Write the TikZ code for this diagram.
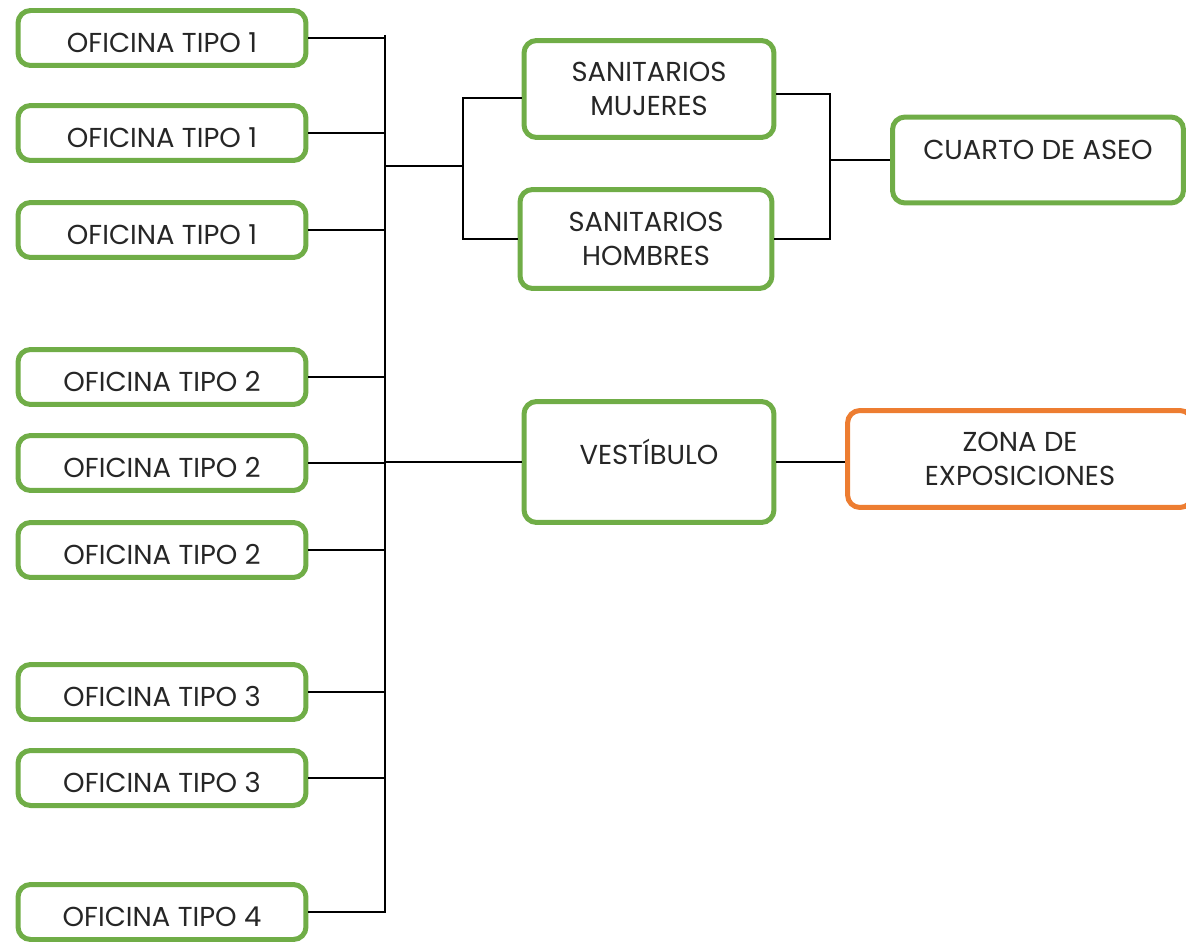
\documentclass[tikz,border=0pt]{standalone}
\usepackage{fontspec}
\setmainfont{Poppins}
\usepackage{tikz}
\usetikzlibrary{positioning,calc}
\definecolor{boxgreen}{HTML}{70AD47}
\definecolor{boxorange}{HTML}{ED7D31}
\tikzstyle{areanode}=[rectangle, draw=boxgreen, line width=0.1cm, rounded corners=0.25cm, inner sep=0pt, align=center, text=black!85, font=\fontsize{15.6}{19.3}\selectfont]
\tikzstyle{officenode}=[areanode, minimum width=5.76cm, minimum height=1.1cm, text height=0.6cm]
\tikzstyle{roomnode}=[areanode, minimum width=5cm, minimum height=1.94cm]
\tikzstyle{raisedtext}=[text depth=0.4cm]
\tikzstyle{linkedge}=[line width=0.05cm, black]

\begin{document}
\begin{tikzpicture}[x=0.02cm, y=-0.02cm]
    \useasboundingbox (0,0) rectangle (1186,942);

    \foreach \n/\y/\t in {1/38/1, 2/133/1, 3/230/1, 4/377/2, 5/463/2, 6/550/2, 7/692/3, 8/778/3, 9/912/4}
      \node[officenode] (of\n) at (162,\y) {OFICINA TIPO \t};

    \node[roomnode] (sanm) at (649,89) {SANITARIOS\\MUJERES};
    \node[roomnode, minimum width=5.04cm, minimum height=1.98cm] (sanh) at (646,239) {SANITARIOS\\HOMBRES};
    \node[roomnode, raisedtext, minimum width=5.82cm, minimum height=1.72cm] (aseo) at (1038,160) {CUARTO DE ASEO};
    \node[roomnode, raisedtext, minimum height=2.42cm] (vest) at (649,462) {VESTÍBULO};
    \node[roomnode, draw=boxorange, minimum width=6.9cm] (expo) at (1020,459) {ZONA DE\\EXPOSICIONES};

    \coordinate (bustop) at (385,35);
    \coordinate (busbot) at (385,913);
    \coordinate (jsan) at (463,166);
    \coordinate (jaseo) at (830,160);

    \draw[linkedge] (bustop) -- (busbot);
    \foreach \n in {1,...,9}
      \draw[linkedge] (of\n.east) -- (of\n.east -| bustop);

    \draw[linkedge] (jsan -| bustop) -- (jsan);
    \draw[linkedge] ([yshift=-0.18cm]sanm.west) -| (jsan) |- (sanh.west);
    \draw[linkedge] ([yshift=-0.1cm]sanm.east) -| (jaseo) |- (sanh.east);
    \draw[linkedge] (jaseo) -- (aseo.west);
    \draw[linkedge] (vest.west) -- (vest.west -| bustop);
    \draw[linkedge] (vest.east) -- (vest.east -| expo.west);
  \end{tikzpicture}
\end{document}
